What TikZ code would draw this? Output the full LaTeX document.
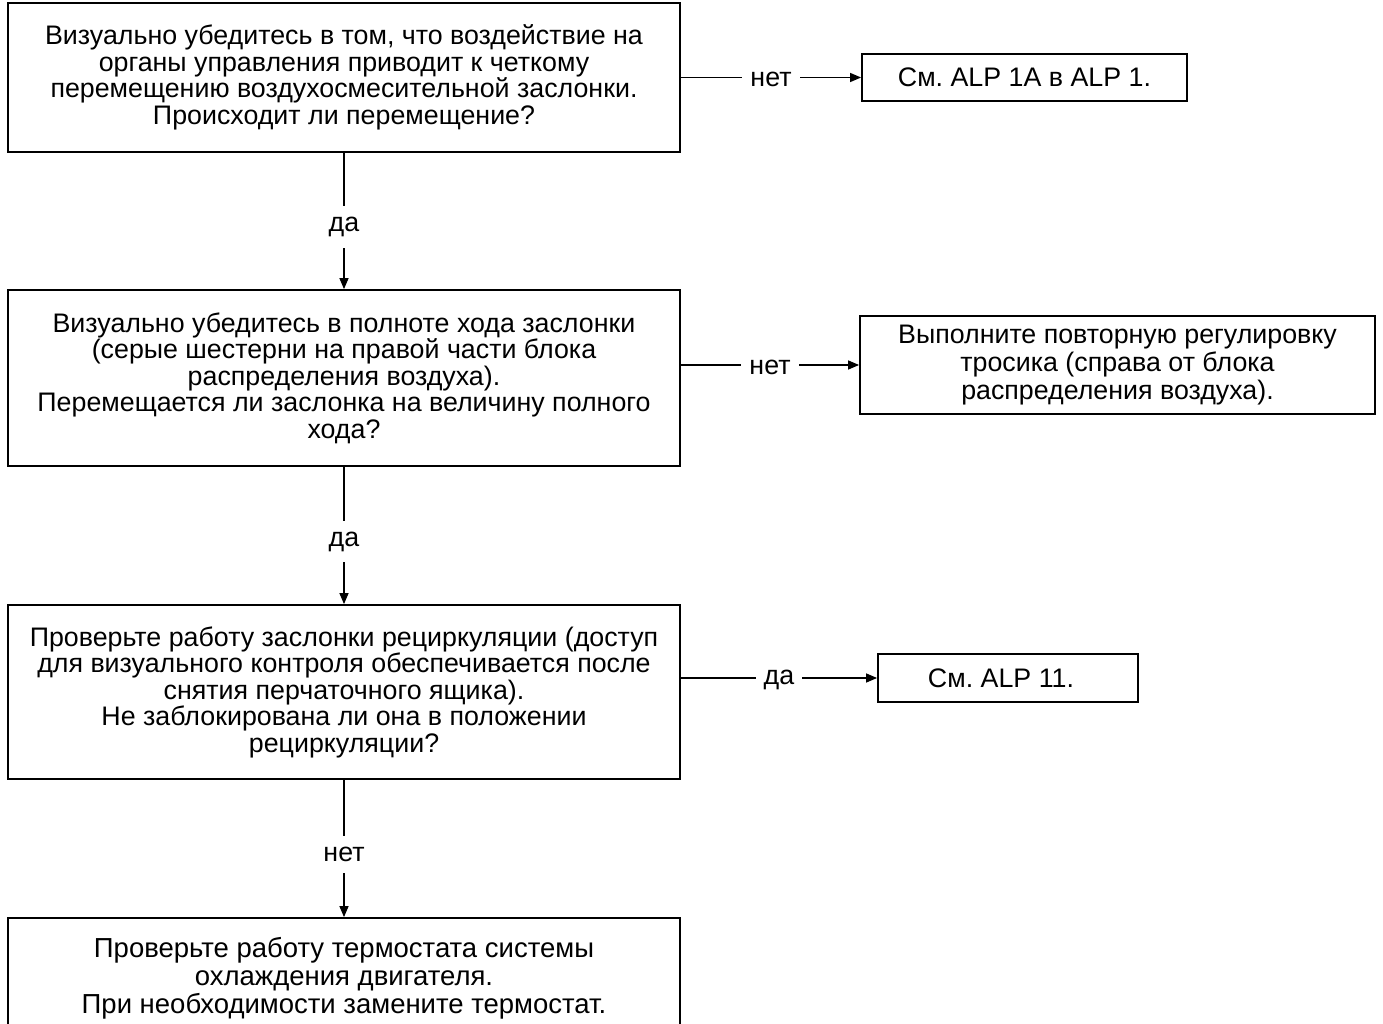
\documentclass[tikz,border=0pt]{standalone}
\usepackage{fontspec}
\setmainfont{Liberation Sans}
\usepackage{tikz}
\usetikzlibrary{arrows.meta,positioning,calc}
\frenchspacing

\begin{document}
\begin{tikzpicture}[x=1pt, y=-1pt,
    every node/.style={align=center, font=\fontsize{26.8}{26.5}\selectfont},
    stepbox/.style={rectangle, draw, line width=1.8pt, inner sep=0pt},
    answer/.style={fill=white, inner sep=8pt},
    flow/.style={line width=1.4pt, -{Triangle[length=11pt,width=9pt]}}]

\clip (0,0) rectangle (1383,1024);

\node[stepbox, minimum width=672, minimum height=149] (check1) at (344,77.5)
     {Визуально убедитесь в том, что воздействие на\\
      органы управления приводит к четкому\\
      перемещению воздухосмесительной заслонки.\\
      Происходит ли перемещение?};

\node[stepbox, minimum width=325, minimum height=47] (ref1) at (1024.5,77.5)
     {См. ALP 1A в ALP 1.};

\node[stepbox, minimum width=672, minimum height=176] (check2) at (344,378)
     {Визуально убедитесь в полноте хода заслонки\\
      (серые шестерни на правой части блока\\
      распределения воздуха).\\
      Перемещается ли заслонка на величину полного\\
      хода?};

\node[stepbox, minimum width=515, minimum height=98,
      font=\fontsize{26.8}{28}\selectfont] (cable) at (1117.5,365)
     {Выполните повторную регулировку\\
      тросика (справа от блока\\
      распределения воздуха).};

\node[stepbox, minimum width=672, minimum height=174] (check3) at (344,692)
     {Проверьте работу заслонки рециркуляции (доступ\\
      для визуального контроля обеспечивается после\\
      снятия перчаточного ящика).\\
      Не заблокирована ли она в положении\\
      рециркуляции?};

\node[stepbox, minimum width=260, minimum height=48] (ref11) at (1008,678)
     {\hspace*{-14pt}См. ALP 11.};

\node[stepbox, minimum width=672, minimum height=120,
      font=\fontsize{27.5}{28}\selectfont] (thermo) at (344,978)
     {Проверьте работу термостата системы\\
      охлаждения двигателя.\\
      При необходимости замените термостат.};

% answers to the right
\draw[flow] (check1.east |- ref1.west) -- node[answer, yshift=-2pt] {нет} (ref1.west);
\draw[flow] (check2.east |- cable.west) -- node[answer, yshift=-2pt] {нет} (cable.west);
\draw[flow] (check3.east |- ref11.west) -- node[answer, yshift=-2pt] {да} (ref11.west);

% answers downwards
\draw[flow] (check1) -- node[answer, inner sep=11pt, yshift=-6pt] {да} (check2);
\draw[flow] (check2) -- node[answer, inner sep=11pt, yshift=-6pt] {да} (check3);
\draw[flow] (check3) -- node[answer, inner sep=11pt, yshift=-6pt] {нет} (thermo);

\end{tikzpicture}
\end{document}
